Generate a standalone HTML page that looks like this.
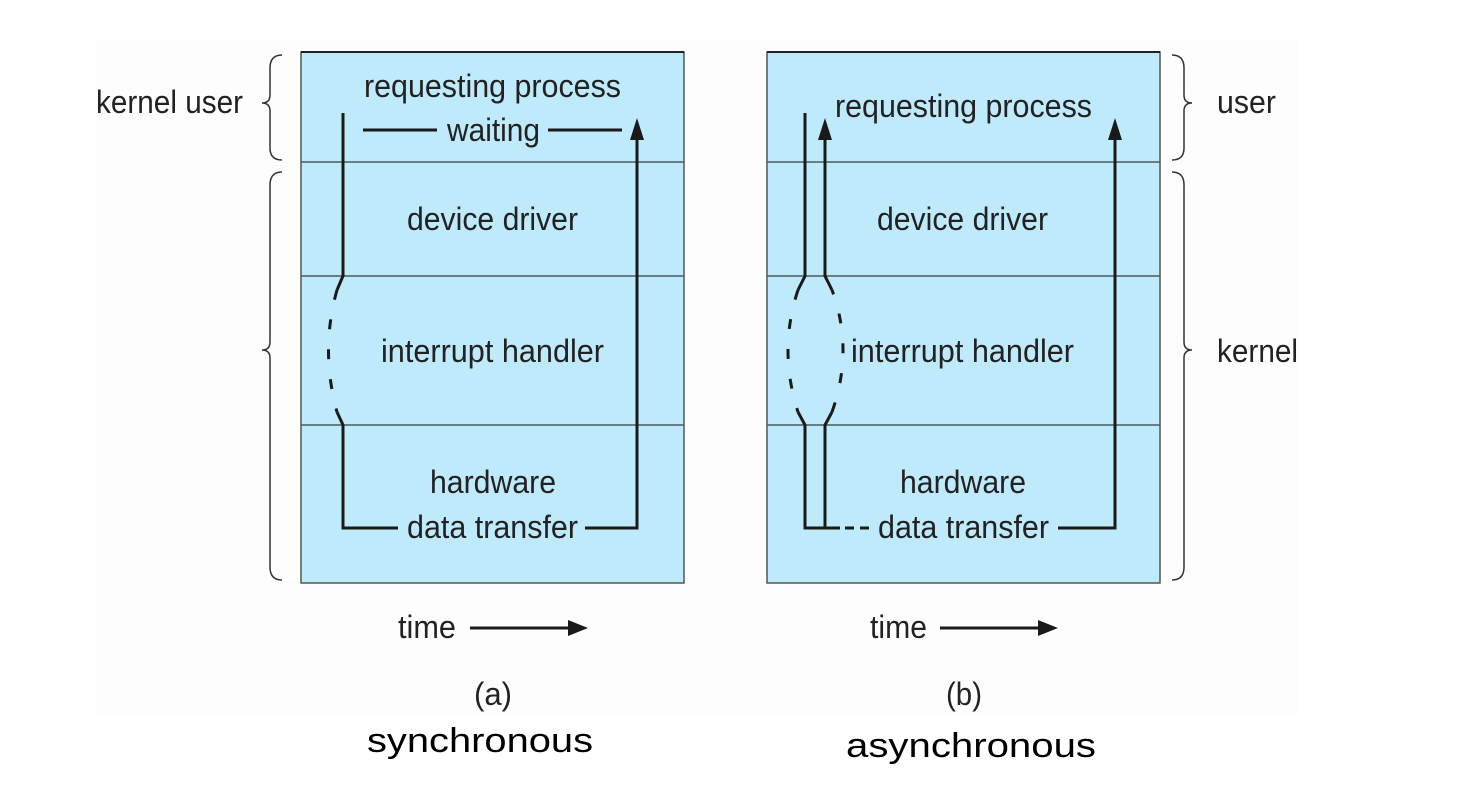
<!DOCTYPE html>
<html><head><meta charset="utf-8"><style>
html,body{margin:0;padding:0;background:#fff;}
svg{display:block;}
text{font-family:"Liberation Sans",Arial,sans-serif;fill:#222;}
</style></head><body>
<svg width="1478" height="796" viewBox="0 0 1478 796" xmlns="http://www.w3.org/2000/svg">
<rect x="95" y="40" width="1205" height="675" fill="#fdfdfd"/>
<!-- Box A -->
<rect x="301" y="52" width="383" height="531" fill="#bfeafb" stroke="#555" stroke-width="1.5"/>
<line x1="301" y1="52" x2="684" y2="52" stroke="#222" stroke-width="2"/>
<g stroke="#4a5a60" stroke-width="1.5">
<line x1="301" y1="162" x2="684" y2="162"/>
<line x1="301" y1="276" x2="684" y2="276"/>
<line x1="301" y1="425" x2="684" y2="425"/>
</g>
<!-- Box B -->
<rect x="767" y="52" width="393" height="531" fill="#bfeafb" stroke="#555" stroke-width="1.5"/>
<line x1="767" y1="52" x2="1160" y2="52" stroke="#222" stroke-width="2"/>
<g stroke="#4a5a60" stroke-width="1.5">
<line x1="767" y1="162" x2="1160" y2="162"/>
<line x1="767" y1="276" x2="1160" y2="276"/>
<line x1="767" y1="425" x2="1160" y2="425"/>
</g>

<g stroke="#1a1a1a" stroke-width="3" fill="none">
<path d="M343 113 V276 L337 290"/>
<path d="M337 290 Q320 350 337 412" stroke-dasharray="10 20"/>
<path d="M337 412 L343 425 V528 H398"/>
<path d="M585 528 H637 V135"/>
<line x1="363" y1="130" x2="437" y2="130"/>
<line x1="548" y1="130" x2="622" y2="130"/>
<path d="M805 113 V276 L798 290"/>
<path d="M798 290 Q778 350 798 412" stroke-dasharray="10 20"/>
<path d="M798 412 L805 425 V528 H840"/>
<path d="M825 528 V425 L832 412"/>
<path d="M832 412 Q854 350 832 290" stroke-dasharray="10 20"/>
<path d="M832 290 L825 276 V135"/>
<path d="M845 528 H872" stroke-dasharray="9 6"/>
<path d="M1058 528 H1115 V135"/>
<line x1="470" y1="628" x2="572" y2="628"/>
<line x1="940" y1="628" x2="1042" y2="628"/>
</g>
<g fill="#1a1a1a">
<polygon points="637,118 630,140 644,140"/>
<polygon points="825,118 818,140 832,140"/>
<polygon points="1115,118 1108,140 1122,140"/>
<polygon points="588,628 568,620 568,636"/>
<polygon points="1058,628 1038,620 1038,636"/>
</g>

<g stroke="#333" stroke-width="1.5" fill="none">
<path d="M282 55 Q270 55 270 68 V95 Q270 103 262 103 Q270 103 270 111 V148 Q270 160 282 160"/>
<path d="M282 172 Q270 172 270 185 V342 Q270 350 262 350 Q270 350 270 358 V567 Q270 580 282 580"/>
<path d="M1172 55 Q1184 55 1184 68 V95 Q1184 103 1192 103 Q1184 103 1184 111 V148 Q1184 160 1172 160"/>
<path d="M1172 172 Q1184 172 1184 185 V342 Q1184 350 1192 350 Q1184 350 1184 358 V567 Q1184 580 1172 580"/>
</g>

<g font-size="32">
<text x="364" y="97" textLength="257" lengthAdjust="spacingAndGlyphs">requesting process</text>
<text x="447" y="141" textLength="93" lengthAdjust="spacingAndGlyphs">waiting</text>
<text x="407" y="230" textLength="171" lengthAdjust="spacingAndGlyphs">device driver</text>
<text x="381" y="362" textLength="223" lengthAdjust="spacingAndGlyphs">interrupt handler</text>
<text x="430" y="493" textLength="126" lengthAdjust="spacingAndGlyphs">hardware</text>
<text x="407" y="538" textLength="171" lengthAdjust="spacingAndGlyphs">data transfer</text>
<text x="96" y="113" textLength="147" lengthAdjust="spacingAndGlyphs">kernel user</text>
<text x="398" y="638" textLength="58" lengthAdjust="spacingAndGlyphs">time</text>
<text x="474" y="705" textLength="38" lengthAdjust="spacingAndGlyphs">(a)</text>

<text x="835" y="117" textLength="257" lengthAdjust="spacingAndGlyphs">requesting process</text>
<text x="877" y="230" textLength="171" lengthAdjust="spacingAndGlyphs">device driver</text>
<text x="851" y="362" textLength="223" lengthAdjust="spacingAndGlyphs">interrupt handler</text>
<text x="900" y="493" textLength="126" lengthAdjust="spacingAndGlyphs">hardware</text>
<text x="878" y="538" textLength="171" lengthAdjust="spacingAndGlyphs">data transfer</text>
<text x="1217" y="113" textLength="59" lengthAdjust="spacingAndGlyphs">user</text>
<text x="1217" y="362" textLength="81" lengthAdjust="spacingAndGlyphs">kernel</text>
<text x="870" y="638" textLength="57" lengthAdjust="spacingAndGlyphs">time</text>
<text x="946" y="705" textLength="36" lengthAdjust="spacingAndGlyphs">(b)</text>
</g>
<g font-size="34">
<text x="367" y="752" textLength="226" lengthAdjust="spacingAndGlyphs" style="fill:#000">synchronous</text>
<text x="846" y="757" textLength="250" lengthAdjust="spacingAndGlyphs" style="fill:#000">asynchronous</text>
</g>
</svg>
</body></html>
